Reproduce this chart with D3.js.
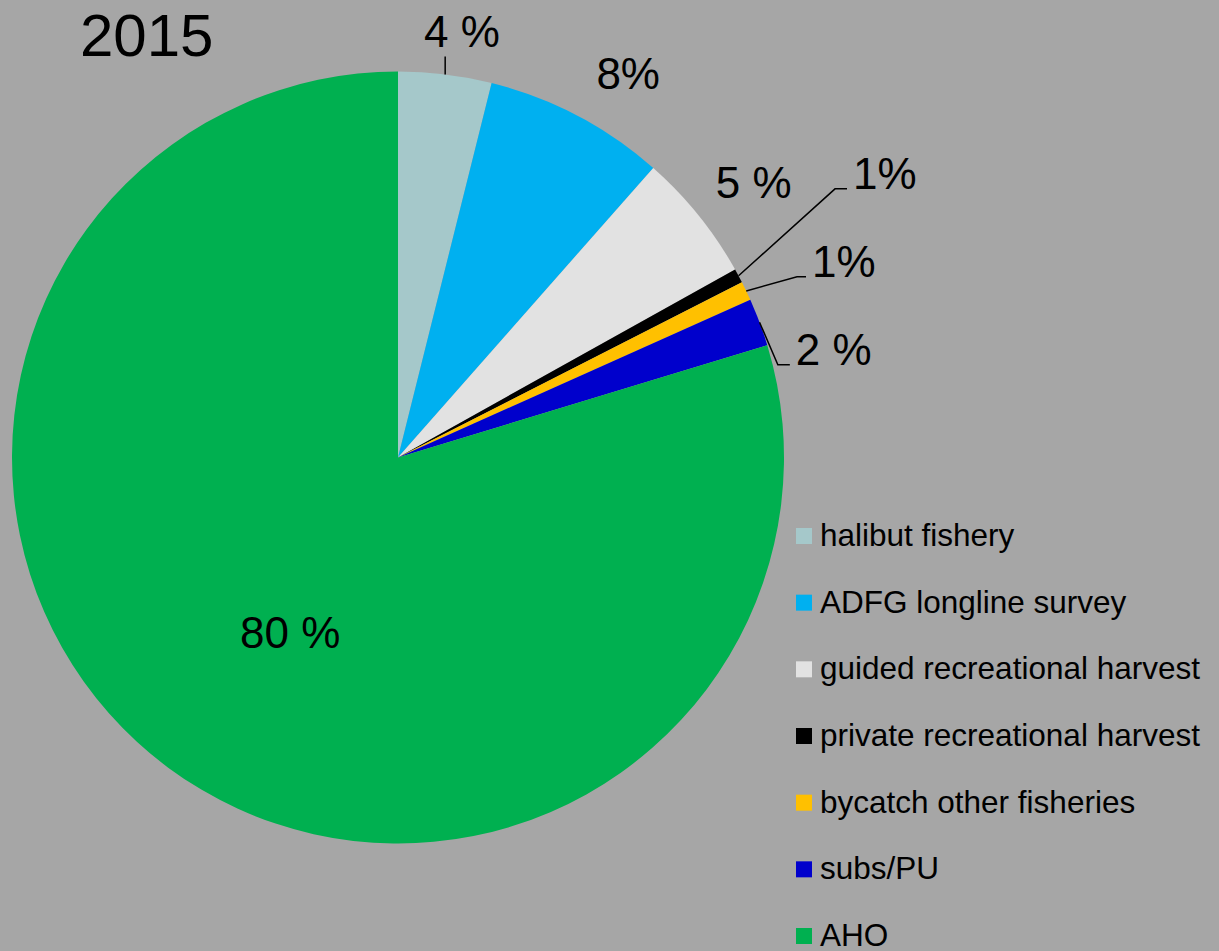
<!DOCTYPE html>
<html>
<head>
<meta charset="utf-8">
<script src="https://cdn.jsdelivr.net/npm/d3@7"></script>
<style>
  body { margin: 0; background: #a6a6a6; }
  svg text { font-family: "Liberation Sans", Arial, sans-serif; fill: #000; }
</style>
</head>
<body>
<svg id="chart"></svg>
<script>
// chart data
var title = "2015";
var categories = ["halibut fishery", "ADFG longline survey", "guided recreational harvest",
                  "private recreational harvest", "bycatch other fisheries", "subs/PU", "AHO"];
var values = [3.9, 7.6, 5.4, 0.6, 0.8, 2.0, 79.7];
var labels = ["4 %", "8%", "5 %", "1%", "1%", "2 %", "80 %"];
var colors = ["#a5c8ca", "#00b0f0", "#e2e2e2", "#000000", "#ffc000", "#0000cc", "#00b050"];

var w = 1219, h = 951;
var cx = 398, cy = 457.5, radius = 386;

var svg = d3.select("#chart")
  .attr("width", w)
  .attr("height", h);

svg.append("rect").attr("width", w).attr("height", h).attr("fill", "#a6a6a6");

var rows = categories.map(function(c, i) {
  return { cat: c, value: values[i], label: labels[i], color: colors[i] };
});

var pie = d3.pie()
  .sort(null)
  .value(function(d) { return d.value; });

var arc = d3.arc().innerRadius(0).outerRadius(radius);

var arcs = pie(rows);

var g = svg.append("g").attr("transform", "translate(" + cx + "," + cy + ")");

g.selectAll("path.slice")
  .data(arcs)
  .enter()
  .append("path")
  .attr("class", "slice")
  .attr("d", arc)
  .attr("fill", function(d) { return d.data.color; });

// polar point helper (angle 0 = 12 o'clock, clockwise)
function polar(a, r) {
  return [r * Math.sin(a), -r * Math.cos(a)];
}
var deg = Math.PI / 180;

// label placement: floating labels by radius/angle shift, small slices with elbow leaders
var labelLayout = [
  { lr: 431, da: 1.5, tick: 18 },
  { lr: 448, da: 3.2 },
  { lr: 450, da: 1.1 },
  { er: 513, da: -3.5, tail: 12 },
  { er: 438, da: 1.2, tail: 9 },
  { er: 391, da: 6.8, tail: 12 },
  { lr: 205, da: -4.8 }
];

var labelSize = 44;

arcs.forEach(function(d, i) {
  var lay = labelLayout[i];
  var mid = (d.startAngle + d.endAngle) / 2;
  var edge = polar(mid, radius);
  if (lay.er) {
    var elbow = polar(mid + lay.da * deg, lay.er);
    var tailX = elbow[0] + lay.tail;
    g.append("polyline")
      .attr("points", [edge, elbow, [tailX, elbow[1]]].map(function(p) { return p.join(","); }).join(" "))
      .attr("fill", "none")
      .attr("stroke", "#000")
      .attr("stroke-width", 1.5);
    g.append("text")
      .attr("x", tailX + 6)
      .attr("y", elbow[1])
      .attr("font-size", labelSize)
      .attr("text-anchor", "start")
      .text(d.data.label);
  } else {
    var p = polar(mid + lay.da * deg, lay.lr);
    if (lay.tick) {
      g.append("line")
        .attr("x1", edge[0]).attr("y1", edge[1])
        .attr("x2", edge[0]).attr("y2", edge[1] - lay.tick)
        .attr("stroke", "#000")
        .attr("stroke-width", 1.5);
    }
    g.append("text")
      .attr("x", p[0])
      .attr("y", p[1] + 16)
      .attr("font-size", labelSize)
      .attr("text-anchor", "middle")
      .text(d.data.label);
  }
});

// title
svg.append("text")
  .attr("x", 80)
  .attr("y", 56)
  .attr("font-size", 60)
  .text(title);

// legend
var legendY = d3.scalePoint()
  .domain(categories)
  .range([536, 936]);

var legend = svg.append("g")
  .selectAll("g")
  .data(rows)
  .enter()
  .append("g")
  .attr("transform", function(d) { return "translate(796," + legendY(d.cat) + ")"; });

legend.append("rect")
  .attr("x", 0)
  .attr("y", -8)
  .attr("width", 16)
  .attr("height", 16)
  .attr("fill", function(d) { return d.color; });

legend.append("text")
  .attr("x", 24)
  .attr("y", 10)
  .attr("font-size", 31.5)
  .text(function(d) { return d.cat; });
</script>
</body>
</html>
